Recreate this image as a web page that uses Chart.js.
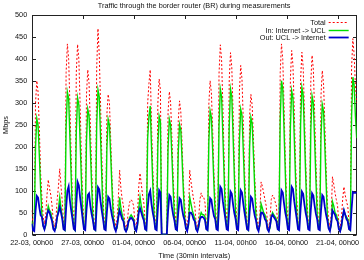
<!DOCTYPE html>
<html>
<head>
<meta charset="utf-8">
<script src="https://cdn.jsdelivr.net/npm/chart.js@4.4.0/dist/chart.umd.min.js"></script>
<style>
  body { margin: 0; background: #fff; }
  canvas { display: block; }
</style>
</head>
<body>
<canvas id="grafico" width="364" height="260"></canvas>
<script>
// one sample every 3h (= 6 intervals of 30min), one line per day from 22-03
const paso = 6;

const etiquetasX = [
  "22-03, 00h00",
  "27-03, 00h00",
  "01-04, 00h00",
  "06-04, 00h00",
  "11-04, 00h00",
  "16-04, 00h00",
  "21-04, 00h00",
];

const totalMbps = [
  55, 22, 18, 300, 351, 325, 240, 140,
  85, 40, 24, 45, 90, 125, 105, 90,
  65, 27, 18, 35, 80, 110, 150, 110,
  75, 26, 22, 370, 435, 400, 295, 175,
  80, 28, 22, 370, 434, 400, 295, 175,
  80, 27, 22, 320, 376, 345, 255, 150,
  73, 26, 22, 380, 470, 410, 300, 180,
  80, 27, 22, 275, 320, 300, 218, 128,
  70, 33, 18, 35, 85, 147, 105, 80,
  65, 27, 15, 27, 60, 75, 80, 75,
  65, 24, 16, 45, 110, 140, 115, 90,
  72, 26, 22, 300, 345, 376, 255, 150,
  80, 27, 22, 300, 355, 330, 0, 0,
  0, 0, 0, 280, 326, 300, 222, 130,
  72, 26, 22, 260, 305, 280, 207, 122,
  72, 30, 18, 45, 147, 120, 100, 80,
  65, 26, 15, 35, 80, 95, 85, 85,
  72, 26, 22, 298, 351, 323, 239, 140,
  80, 27, 22, 368, 433, 398, 294, 173,
  80, 27, 22, 353, 415, 382, 282, 166,
  80, 27, 22, 328, 386, 355, 262, 154,
  72, 26, 22, 272, 320, 294, 218, 128,
  72, 30, 18, 45, 120, 110, 95, 80,
  65, 26, 15, 35, 80, 90, 85, 75,
  65, 26, 22, 370, 435, 400, 296, 174,
  80, 27, 22, 357, 420, 386, 286, 168,
  80, 27, 22, 354, 416, 383, 283, 166,
  80, 27, 22, 348, 409, 376, 278, 164,
  80, 27, 22, 318, 374, 344, 254, 150,
  72, 30, 18, 45, 132, 115, 95, 80,
  65, 26, 15, 35, 80, 109, 90, 75,
  65, 26, 22, 380, 447, 411, 340, 300,
];

const inMbps = [
  30, 12, 10, 200, 265, 250, 180, 105,
  45, 20, 12, 20, 45, 65, 55, 50,
  35, 15, 10, 15, 40, 60, 85, 60,
  40, 14, 10, 245, 325, 310, 220, 130,
  45, 15, 10, 235, 312, 296, 212, 125,
  45, 15, 12, 215, 286, 272, 195, 115,
  40, 14, 10, 250, 330, 314, 225, 132,
  45, 15, 12, 197, 263, 250, 179, 105,
  40, 18, 10, 15, 45, 85, 60, 45,
  35, 15, 8, 12, 30, 40, 45, 40,
  35, 12, 8, 20, 60, 85, 65, 50,
  40, 14, 10, 220, 270, 293, 200, 117,
  45, 15, 12, 203, 270, 257, 0, 0,
  0, 0, 0, 197, 263, 250, 179, 105,
  40, 14, 10, 188, 251, 238, 171, 100,
  40, 16, 10, 20, 85, 70, 55, 45,
  35, 14, 8, 15, 40, 50, 45, 45,
  40, 14, 10, 212, 282, 268, 192, 113,
  45, 15, 12, 249, 332, 315, 226, 133,
  45, 15, 12, 249, 332, 315, 226, 133,
  45, 15, 12, 215, 286, 272, 194, 114,
  40, 14, 10, 200, 267, 254, 182, 107,
  40, 16, 10, 20, 70, 60, 50, 45,
  35, 14, 8, 15, 40, 50, 45, 40,
  35, 14, 10, 263, 351, 333, 239, 140,
  45, 15, 12, 246, 328, 312, 223, 131,
  45, 15, 12, 252, 336, 319, 228, 134,
  45, 15, 12, 237, 316, 300, 215, 126,
  45, 15, 12, 223, 297, 282, 202, 119,
  40, 16, 10, 20, 75, 65, 50, 45,
  35, 14, 8, 15, 40, 55, 45, 40,
  35, 14, 10, 270, 359, 341, 270, 220,
];

const outMbps = [
  25, 10, 8, 53, 88, 84, 62, 44,
  40, 20, 12, 25, 45, 55, 50, 40,
  30, 12, 8, 20, 40, 50, 63, 50,
  35, 12, 10, 60, 100, 110, 77, 55,
  35, 13, 10, 70, 120, 112, 84, 60,
  35, 12, 10, 56, 90, 94, 66, 47,
  33, 12, 10, 65, 108, 103, 76, 54,
  35, 12, 10, 52, 86, 82, 60, 43,
  30, 15, 8, 20, 40, 55, 45, 35,
  30, 12, 7, 15, 30, 35, 38, 35,
  30, 12, 8, 25, 50, 60, 50, 40,
  32, 12, 10, 60, 92, 100, 70, 50,
  35, 12, 10, 60, 101, 96, 0, 0,
  0, 0, 0, 54, 90, 86, 63, 45,
  32, 12, 10, 50, 83, 79, 58, 42,
  32, 14, 8, 25, 50, 50, 45, 35,
  30, 12, 7, 20, 35, 40, 40, 38,
  32, 12, 10, 50, 83, 79, 58, 42,
  35, 12, 10, 65, 109, 104, 76, 55,
  35, 12, 10, 59, 98, 93, 69, 49,
  35, 12, 10, 61, 101, 96, 71, 50,
  32, 12, 10, 52, 86, 82, 60, 43,
  32, 14, 8, 25, 50, 50, 45, 35,
  30, 12, 7, 20, 40, 45, 40, 35,
  30, 12, 10, 61, 101, 96, 71, 50,
  35, 12, 10, 65, 109, 104, 76, 55,
  35, 12, 10, 59, 98, 93, 69, 49,
  35, 12, 10, 56, 94, 89, 66, 47,
  35, 12, 10, 54, 90, 86, 63, 45,
  32, 14, 8, 25, 55, 50, 45, 35,
  30, 12, 7, 20, 40, 55, 45, 35,
  30, 12, 10, 58, 97, 95, 95, 97,
];

const fuente = { family: "'Liberation Sans', Arial, sans-serif", size: 7.3 };
const colorTexto = "#111";

function aPuntos(valores) {
  return valores.map((v, i) => ({ x: i * paso, y: v }));
}

//marco estilo gnuplot: caja, marcas hacia dentro y leyenda
const marcoGnuplot = {
  id: "marcoGnuplot",
  beforeDatasetsDraw(chart) {
    const { ctx, chartArea: a, scales } = chart;
    const l = Math.round(a.left) + 0.5;
    const r = Math.round(a.right) - 0.5;
    const t = Math.round(a.top) + 0.5;
    const b = Math.round(a.bottom) - 0.5;
    ctx.save();
    ctx.strokeStyle = "#222";
    ctx.lineWidth = 1;
    ctx.beginPath();
    scales.x.ticks.forEach((tick) => {
      const px = Math.round(scales.x.getPixelForValue(tick.value)) + 0.5;
      ctx.moveTo(px, b);
      ctx.lineTo(px, b - 3.5);
      ctx.moveTo(px, t);
      ctx.lineTo(px, t + 3.5);
    });
    scales.y.ticks.forEach((tick) => {
      const py = Math.round(scales.y.getPixelForValue(tick.value)) + 0.5;
      ctx.moveTo(l, py);
      ctx.lineTo(l + 3.5, py);
      ctx.moveTo(r, py);
      ctx.lineTo(r - 3.5, py);
    });
    ctx.stroke();
    ctx.strokeRect(l, t, r - l, b - t);
    ctx.restore();
  },
  afterDatasetsDraw(chart) {
    const { ctx, chartArea: a } = chart;
    ctx.save();
    ctx.font = `${fuente.size}px ${fuente.family}`;
    ctx.textAlign = "right";
    ctx.textBaseline = "middle";
    chart.data.datasets.forEach((ds, i) => {
      const y = Math.round(a.top + 6.5 + i * 7.6) + 0.5;
      ctx.fillStyle = colorTexto;
      ctx.fillText(ds.label, a.right - 31, y);
      ctx.strokeStyle = ds.borderColor;
      ctx.lineWidth = ds.borderWidth;
      ctx.setLineDash(ds.borderDash || []);
      ctx.beginPath();
      ctx.moveTo(a.right - 28, y);
      ctx.lineTo(a.right - 8, y);
      ctx.stroke();
    });
    ctx.restore();
  },
};

new Chart(document.getElementById("grafico"), {
  type: "line",
  data: {
    datasets: [
      {
        label: "Total",
        data: aPuntos(totalMbps),
        borderColor: "#ff0000",
        borderWidth: 1,
        borderDash: [2, 2],
        order: 3,
      },
      {
        label: "In: Internet -> UCL",
        data: aPuntos(inMbps),
        borderColor: "#00dd00",
        borderWidth: 1.4,
        order: 2,
      },
      {
        label: "Out: UCL -> Internet",
        data: aPuntos(outMbps),
        borderColor: "#0000cc",
        borderWidth: 1.8,
        order: 1,
      },
    ],
  },
  options: {
    responsive: false,
    animation: false,
    devicePixelRatio: 1,
    layout: { padding: { left: 0, right: 1.3, top: 0, bottom: 0 } },
    elements: {
      point: { radius: 0 },
      line: { tension: 0, fill: false },
    },
    plugins: {
      legend: { display: false },
      tooltip: { enabled: false },
      title: {
        display: true,
        text: "Traffic through the border router (BR) during measurements",
        fullSize: false,
        color: colorTexto,
        font: { ...fuente, weight: "normal" },
        padding: { top: 1.5, bottom: 5.2 },
      },
    },
    scales: {
      x: {
        type: "linear",
        min: 0,
        max: (totalMbps.length - 1) * paso,
        afterBuildTicks(s) {
          s.ticks = etiquetasX.map((_, i) => ({ value: i * 240 }));
        },
        afterFit(s) {
          s.height = 25.5;
        },
        ticks: {
          padding: 4.5,
          maxRotation: 0,
          autoSkip: false,
          color: colorTexto,
          font: fuente,
          callback: (v, i) => etiquetasX[i],
        },
        grid: { display: false, drawTicks: false },
        border: { display: false },
        title: {
          display: true,
          text: "Time (30min intervals)",
          color: colorTexto,
          font: fuente,
          padding: { top: 0, bottom: 0 },
        },
      },
      y: {
        min: 0,
        max: 500,
        afterFit(s) {
          s.width = 31.7;
        },
        ticks: { stepSize: 50, padding: 4.5, color: colorTexto, font: fuente },
        grid: { display: false, drawTicks: false },
        border: { display: false },
        title: {
          display: true,
          text: "Mbps",
          color: colorTexto,
          font: fuente,
          padding: { top: 1.5, bottom: 0 },
        },
      },
    },
  },
  plugins: [marcoGnuplot],
});
</script>
</body>
</html>
